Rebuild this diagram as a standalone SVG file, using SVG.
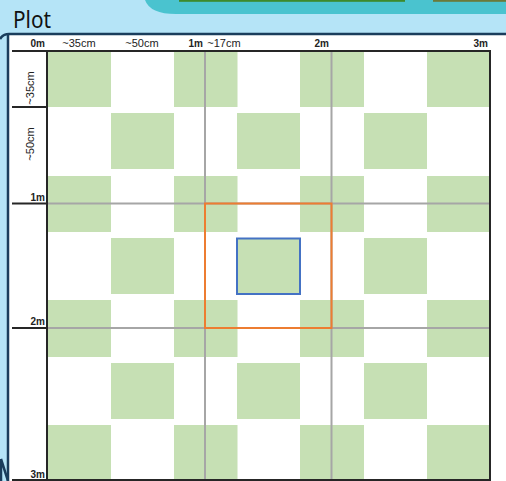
<svg xmlns="http://www.w3.org/2000/svg" width="506" height="481" viewBox="0 0 506 481">
<style>
.sq{fill:#c6e0b4}
.grid{stroke:#a6a6a6;stroke-width:2;fill:none}
.ax{stroke:#262626;stroke-width:2;fill:none}
.frame{stroke:#1a3d5c;stroke-width:2.5;fill:none}
.lb{font-family:"Liberation Sans",Arial,sans-serif;font-size:11px;fill:#222}
.b{font-weight:bold;font-size:10px}
</style>
<rect width="506" height="481" fill="#b5e4f7"/>
<path d="M145,0 Q150,14 176,14 L506,14 L506,0 Z" fill="#4ac3cf"/>
<rect x="179" y="0" width="226" height="1.8" fill="#3d8a2b"/>
<rect x="433" y="0" width="73" height="1.8" fill="#6b7a3a"/>
<text x="13" y="28" font-family="'Noto Sans','DejaVu Sans',sans-serif" font-weight="400" font-size="24" fill="#111" textLength="38" lengthAdjust="spacingAndGlyphs">Plot</text>
<rect x="8" y="34" width="498" height="447" fill="#ffffff"/>
<g id="frame">
<path class="frame" d="M0,39 Q3,34 9,34 L506,34"/>
<path class="frame" d="M8,34 L8,481"/>
<path class="frame" d="M1,459 L8,481 M1,459 L1,481" stroke-width="2"/>
</g>
<g id="squares">
<rect class="sq" x="48" y="51" width="63" height="56"/>
<rect class="sq" x="174" y="51" width="63.5" height="56"/>
<rect class="sq" x="300" y="51" width="64" height="56"/>
<rect class="sq" x="427" y="51" width="63" height="56"/>
<rect class="sq" x="111" y="113" width="63" height="56"/>
<rect class="sq" x="237" y="113" width="63" height="56"/>
<rect class="sq" x="364" y="113" width="63" height="56"/>
<rect class="sq" x="48" y="176" width="63" height="56"/>
<rect class="sq" x="174" y="176" width="63.5" height="56"/>
<rect class="sq" x="300" y="176" width="64" height="56"/>
<rect class="sq" x="427" y="176" width="63" height="56"/>
<rect class="sq" x="111" y="238" width="63" height="56"/>
<rect class="sq" x="237" y="238" width="63" height="56"/>
<rect class="sq" x="364" y="238" width="63" height="56"/>
<rect class="sq" x="48" y="300" width="63" height="57"/>
<rect class="sq" x="174" y="300" width="63.5" height="57"/>
<rect class="sq" x="300" y="300" width="64" height="57"/>
<rect class="sq" x="427" y="300" width="63" height="57"/>
<rect class="sq" x="111" y="363" width="63" height="56"/>
<rect class="sq" x="237" y="363" width="63" height="56"/>
<rect class="sq" x="364" y="363" width="63" height="56"/>
<rect class="sq" x="48" y="425" width="63" height="56"/>
<rect class="sq" x="174" y="425" width="63.5" height="56"/>
<rect class="sq" x="300" y="425" width="64" height="56"/>
<rect class="sq" x="427" y="425" width="63" height="56"/>
</g>
<g id="gridlines">
<path class="grid" d="M205,51 V481 M331.5,51 V481 M47,203.5 H490 M47,328 H490"/>
</g>
<g id="axes">
<path class="ax" d="M12,51 H490 V481 M47,51 V481 M12,107 H47 M12,203.5 H47 M12,328 H47 M12,480 H490"/>
</g>
<g id="highlight">
<rect x="205" y="203.5" width="126.5" height="124.5" fill="none" stroke="#ed7d31" stroke-width="2"/>
<rect x="237" y="238.5" width="63" height="55.5" fill="none" stroke="#4472c4" stroke-width="2"/>
</g>
<g id="labels">
<text class="lb b" x="45" y="47" text-anchor="end">0m</text>
<text class="lb" x="79" y="47" text-anchor="middle">~35cm</text>
<text class="lb" x="142" y="47" text-anchor="middle">~50cm</text>
<text class="lb b" x="203" y="47" text-anchor="end">1m</text>
<text class="lb" x="224" y="47" text-anchor="middle">~17cm</text>
<text class="lb b" x="329" y="47" text-anchor="end">2m</text>
<text class="lb b" x="488" y="47" text-anchor="end">3m</text>
<text class="lb" transform="translate(34,88) rotate(-90)" text-anchor="middle">~35cm</text>
<text class="lb" transform="translate(34,144) rotate(-90)" text-anchor="middle">~50cm</text>
<text class="lb b" x="45" y="201" text-anchor="end">1m</text>
<text class="lb b" x="45" y="325" text-anchor="end">2m</text>
<text class="lb b" x="45" y="478" text-anchor="end">3m</text>
</g>
</svg>
